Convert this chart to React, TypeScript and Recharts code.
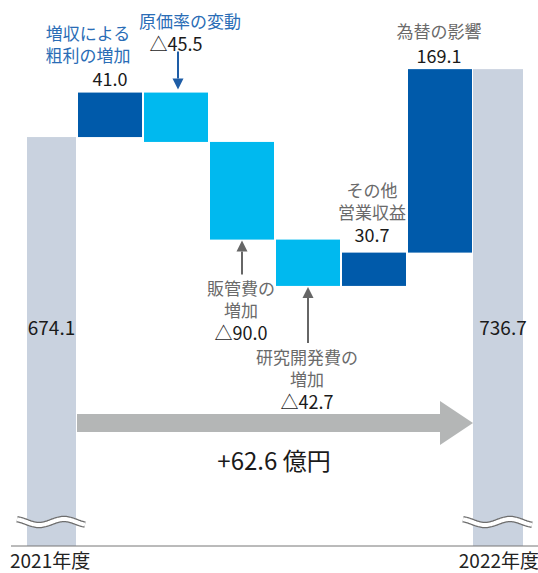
import { BarChart, Bar, XAxis, YAxis } from "recharts"

const categories = ["2021年度", "増収による粗利の増加", "原価率の変動", "販管費の増加", "研究開発費の増加", "その他営業収益", "為替の影響", "2022年度"]
const values = [674.1, 41.0, -45.5, -90.0, -42.7, 30.7, 169.1, 736.7]
const kinds = ["total", "up", "down", "down", "down", "up", "up", "total"]
const titles: string[][] = [[], ["増収による", "粗利の増加"], ["原価率の変動"], ["販管費の", "増加"], ["研究開発費の", "増加"], ["その他", "営業収益"], ["為替の影響"], []]

const Y_MIN = 297.2
const Y_MAX = 791.2

const COLORS: Record<string, string> = { total: "#C9D2DF", up: "#005AAA", down: "#00B9EF" }
const FONT = "'Noto Sans CJK JP', 'Noto Sans', sans-serif"
const BLUE_TEXT = "#2A6DB6"
const GRAY_TEXT = "#6A6A6A"
const NUM = "#1A1A1A"

// waterfall: running total -> [low, high] range per bar
let running = 0
const data = categories.map((name, i) => {
  const v = values[i]
  let range: [number, number]
  if (kinds[i] === "total") {
    range = [Y_MIN, v]
    running = v
  } else {
    const next = running + v
    range = [Math.min(running, next), Math.max(running, next)]
    running = next
  }
  return { name, range, value: v, kind: kinds[i], index: i }
})

const fmt = (v: number) => (v < 0 ? "△" + Math.abs(v).toFixed(1) : v.toFixed(1))

function wavePath(x0: number, x1: number, cy: number) {
  const pts: string[] = []
  for (let px = x0; px <= x1; px += 1) {
    const t = (px - x0 + 3) / 50
    pts.push(`${px},${(cy - 3 * Math.cos(2 * Math.PI * t)).toFixed(1)}`)
  }
  return "M" + pts.join(" L")
}

function Txt({ x, y, children, color, size = 17 }: any) {
  return (
    <text x={x} y={y} textAnchor="middle" dominantBaseline="central" fill={color} fontSize={size} fontFamily={FONT}>
      {children}
    </text>
  )
}

function Arrow({ x, from, to, color }: any) {
  const dir = to > from ? 1 : -1
  const tipBase = to - dir * 11
  return (
    <g>
      <line x1={x} y1={from} x2={x} y2={tipBase} stroke={color} strokeWidth={2} />
      <polygon points={`${x - 5.5},${tipBase} ${x + 5.5},${tipBase} ${x},${to}`} fill={color} />
    </g>
  )
}

function WaterfallShape(props: any) {
  const { x, y, width, height, payload } = props
  const i: number = payload.index
  const kind: string = payload.kind
  const bw = width
  const top = y
  const bottom = y + height
  const t = titles[i]
  let bx = x + 1
  let w = bw - 2
  if (i === 0) {
    bx = x + 16
    w = bw - 17
  } else if (i === categories.length - 1) {
    bx = x
    w = bw - 16
  }
  const cx = bx + w / 2
  const parts: any[] = [<rect key="r" x={bx} y={top} width={w} height={height} fill={COLORS[kind]} />]

  if (kind === "total") {
    const d = wavePath(bx - 10, bx + w + 9, bottom - 24)
    parts.push(<path key="w1" d={d} stroke="#6E6E6E" strokeWidth={6.5} fill="none" />)
    parts.push(<path key="w2" d={d} stroke="#FFFFFF" strokeWidth={4} fill="none" />)
    parts.push(
      <Txt key="v" x={i === 0 ? cx : cx + 5} y={bottom - 220} color={NUM} size={19}>
        {payload.value.toFixed(1)}
      </Txt>
    )
    if (i === categories.length - 1) {
      const xs = bx - 6 * bw
      const xh = bx - 33
      const cy = bottom - 123
      parts.push(
        <polygon
          key="a"
          points={`${xs},${cy - 9} ${xh},${cy - 9} ${xh},${cy - 22} ${bx},${cy} ${xh},${cy + 22} ${xh},${cy + 9} ${xs},${cy + 9}`}
          fill="#B4B6B6"
        />
      )
      const diff = values[categories.length - 1] - values[0]
      parts.push(
        <Txt key="d" x={(xs + bx) / 2 - 1} y={cy + 36} color={NUM} size={24}>
          {(diff >= 0 ? "+" : "") + diff.toFixed(1) + " 億円"}
        </Txt>
      )
    }
  } else if (i === 1) {
    parts.push(<Txt key="t0" x={cx - 22} y={top - 60} color={BLUE_TEXT}>{t[0]}</Txt>)
    parts.push(<Txt key="t1" x={cx - 22} y={top - 38} color={BLUE_TEXT}>{t[1]}</Txt>)
    parts.push(<Txt key="v" x={cx} y={top - 15} color={NUM} size={18}>{fmt(payload.value)}</Txt>)
  } else if (i === 2) {
    parts.push(<Txt key="t0" x={cx + 14} y={top - 72} color={BLUE_TEXT}>{t[0]}</Txt>)
    parts.push(<Txt key="v" x={cx} y={top - 50} color={NUM} size={18}>{fmt(payload.value)}</Txt>)
    parts.push(<Arrow key="a" x={cx + 2} from={top - 41} to={top - 3} color="#1E5DA6" />)
  } else if (i === 3 || i === 4) {
    const off = i === 3 ? 0 : 23
    const arrowLen = i === 3 ? 35 : 57
    parts.push(<Arrow key="a" x={cx} from={bottom + arrowLen} to={bottom + 1} color="#666666" />)
    parts.push(<Txt key="t0" x={cx - 1} y={bottom + 48 + off} color={GRAY_TEXT}>{t[0]}</Txt>)
    parts.push(<Txt key="t1" x={cx - 1} y={bottom + 70 + off} color={GRAY_TEXT}>{t[1]}</Txt>)
    parts.push(<Txt key="v" x={cx - 1} y={bottom + 92 + off} color={NUM} size={18}>{fmt(payload.value)}</Txt>)
  } else if (i === 5) {
    parts.push(<Txt key="t0" x={cx - 2} y={top - 63} color={GRAY_TEXT}>{t[0]}</Txt>)
    parts.push(<Txt key="t1" x={cx - 2} y={top - 41} color={GRAY_TEXT}>{t[1]}</Txt>)
    parts.push(<Txt key="v" x={cx - 2} y={top - 19} color={NUM} size={18}>{fmt(payload.value)}</Txt>)
  } else if (i === 6) {
    parts.push(<Txt key="t0" x={cx - 1} y={top - 39} color={GRAY_TEXT}>{t[0]}</Txt>)
    parts.push(<Txt key="v" x={cx - 1} y={top - 14} color={NUM} size={18}>{fmt(payload.value)}</Txt>)
  }
  return <g>{parts}</g>
}

function YearTick(props: any) {
  const { x, y, index, payload } = props
  if (index !== 0 && index !== categories.length - 1) return null
  const first = index === 0
  return (
    <text
      x={first ? x - 34 : x + 33}
      y={y + 5}
      textAnchor={first ? "start" : "end"}
      dominantBaseline="central"
      fill="#222222"
      fontSize={19}
      fontFamily={FONT}
    >
      {payload.value}
    </text>
  )
}

export default function App() {
  return (
    <div style={{ position: "absolute", left: 0, top: 0, width: 538, height: 573, overflow: "hidden", background: "#fff" }}>
      <BarChart width={540} height={573} data={data} margin={{ top: 10, right: 1, bottom: 0, left: 11 }} barCategoryGap={0}>
        <XAxis
          dataKey="name"
          height={27}
          interval={0}
          tickLine={false}
          axisLine={{ stroke: "#777777", strokeWidth: 1 }}
          tick={<YearTick />}
        />
        <YAxis hide domain={[Y_MIN, Y_MAX]} allowDataOverflow />
        <Bar dataKey="range" isAnimationActive={false} shape={<WaterfallShape />} />
      </BarChart>
    </div>
  )
}
